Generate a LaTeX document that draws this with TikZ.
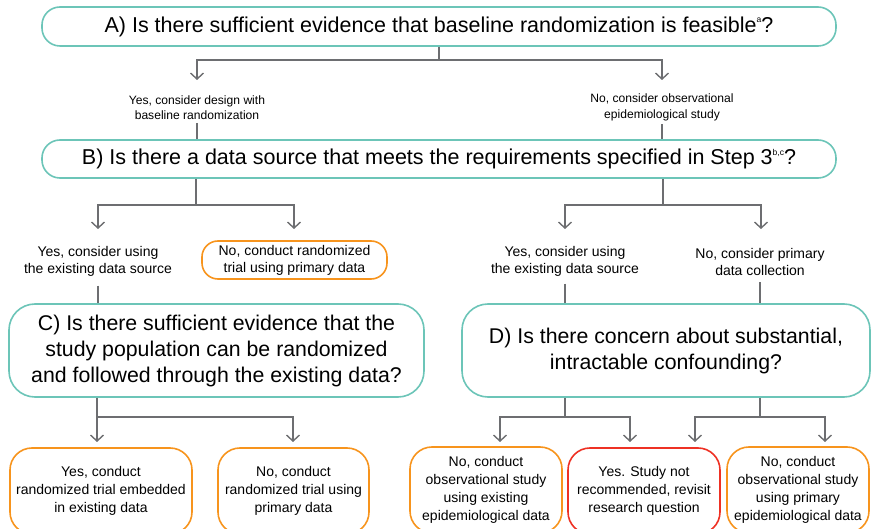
\documentclass[tikz,border=0pt]{standalone}
\usepackage{fontspec}
\setmainfont{Liberation Sans}
\usetikzlibrary{arrows.meta}
\definecolor{qteal}{HTML}{6CC5B8}
\definecolor{qorange}{HTML}{F7941D}
\definecolor{qred}{HTML}{EE3124}
\definecolor{qgray}{HTML}{6D6E71}
\newcommand{\qsup}[1]{\raisebox{0.8ex}{\fontsize{8.5}{8.5}\selectfont #1}}
\begin{document}
\begin{tikzpicture}[x=1pt,y=-1pt,
  qbox/.style={draw=qteal, line width=1.6pt, rounded corners=18pt, align=center, inner sep=0pt},
  bigq/.style={qbox, rounded corners=26pt, font=\fontsize{21.3}{26}\selectfont},
  wideq/.style={qbox, minimum width=794, minimum height=39, font=\fontsize{21.5}{24}\selectfont},
  obox/.style={draw=qorange, line width=1.6pt, rounded corners=22pt, align=center, inner sep=0pt, minimum height=86, font=\fontsize{14}{17.8}\selectfont},
  rbox/.style={obox, draw=qred},
  lbl/.style={align=center, inner sep=1pt, font=\fontsize{12.1}{15.3}\selectfont},
  lblb/.style={align=center, inner sep=1pt, font=\fontsize{14}{17}\selectfont},
  ln/.style={draw=qgray, line width=1.4pt},
  arr/.style={ln, -{Straight Barb[length=6pt,width=13pt,line width=1.4pt]}}
]
\useasboundingbox (0,0) rectangle (871,529);

% level A
\node[wideq] (A) at (439,26.5) {A) Is there sufficient evidence that baseline randomization is feasible\qsup{a}?};
\node[lbl] (yA) at (197,107.5) {Yes, consider design with\\baseline randomization};
\node[lbl] (nA) at (662,107.5) {No, consider observational\\epidemiological study};
\coordinate (jA) at (439,60);
\coordinate (eA1) at (197,80);
\coordinate (eA2) at (662,80);
\draw[arr] (A.south) -- (jA) -| (eA1);
\draw[arr] (jA) -| (eA2);

% level B
\node[wideq, minimum height=38] (B) at (439,159) {B) Is there a data source that meets the requirements specified in Step 3\qsup{b,c}?};
\draw[ln, shorten <=2pt] (yA.south) -- (yA.south |- B.north);
\draw[ln, shorten <=2pt] (nA.south) -- (nA.south |- B.north);

\node[lblb] (yB1) at (98,261.5) {Yes, consider using\\the existing data source};
\node[draw=qorange, line width=1.6pt, rounded corners=16pt, align=center, inner sep=0pt,
      minimum width=185, minimum height=38, font=\fontsize{14}{17}\selectfont] (nB1) at (294.5,260) {No, conduct randomized\\trial using primary data};
\node[lblb] (yB2) at (565,261.5) {Yes, consider using\\the existing data source};
\node[lblb] (nB2) at (760,261.5) {No, consider primary\\data collection};

\coordinate (jB1) at (196,205);
\coordinate (jB2) at (663,205);
\coordinate (eB1) at (98,229);
\coordinate (eB2) at (294,229);
\coordinate (eB3) at (565,229);
\coordinate (eB4) at (761,229);
\draw[ln] (B.south -| jB1) -- (jB1);
\draw[arr] (jB1) -| (eB1);
\draw[arr] (jB1) -| (eB2);
\draw[ln] (B.south -| jB2) -- (jB2);
\draw[arr] (jB2) -| (eB3);
\draw[arr] (jB2) -| (eB4);

% level C / D
\node[bigq, minimum width=415, minimum height=93] (C) at (216.5,350.5) {C) Is there sufficient evidence that the\\study population can be randomized\\and followed through the existing data?};
\node[bigq, minimum width=408, minimum height=93] (D) at (666,350.5) {D) Is there concern about substantial,\\intractable confounding?};
\draw[ln, shorten <=8pt] (yB1.south) -- (yB1.south |- C.north);
\draw[ln, shorten <=6pt] (yB2.south) -- (yB2.south |- D.north);
\draw[ln, shorten <=6pt] (nB2.south) -- (nB2.south |- D.north);

% bottom (boxes run past the lower edge)
\node[obox, minimum width=182] (c1) at (101,491) {Yes, conduct\\randomized trial embedded\\in existing data};
\node[obox, minimum width=151] (c2) at (293.5,491) {No, conduct\\randomized trial using\\primary data};
\node[obox, minimum width=152] (d1) at (486,490) {No, conduct\\observational study\\using existing\\epidemiological data};
\node[rbox, minimum width=152] (d2) at (644,491) {Yes. Study not\\recommended, revisit\\research question};
\node[obox, minimum width=142] (d3) at (798,490) {No, conduct\\observational study\\using primary\\epidemiological data};

\coordinate (jC) at (97,417);
\coordinate (eC1) at (97,442);
\coordinate (eC2) at (293,442);
\draw[arr] (C.south -| jC) -- (eC1);
\draw[arr] (jC) -| (eC2);

\coordinate (jD1) at (565,417);
\coordinate (jD2) at (760,417);
\coordinate (eD1) at (500,442);
\coordinate (eD2) at (630,442);
\coordinate (eD3) at (695,442);
\coordinate (eD4) at (825,442);
\draw[ln] (D.south -| jD1) -- (jD1);
\draw[arr] (jD1) -| (eD1);
\draw[arr] (jD1) -| (eD2);
\draw[ln] (D.south -| jD2) -- (jD2);
\draw[arr] (jD2) -| (eD3);
\draw[arr] (jD2) -| (eD4);
\end{tikzpicture}
\end{document}
